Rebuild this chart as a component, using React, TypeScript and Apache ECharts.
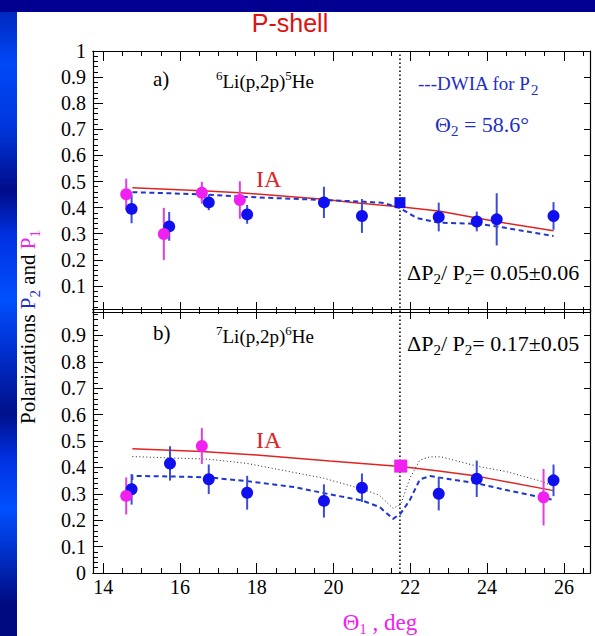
import React, { useEffect, useRef } from 'react';
import * as echarts from 'echarts';

// ---- axis ranges / ticks ----
const X_MIN = 13.735;
const X_MAX = 26.68;
const xMajorStep = 2;
const xMinorStep = 0.5;
const yStep = 0.1;

// ---- panel a) 6Li(p,2p)5He : [theta1, value, error] ----
const aP2 = [
  [14.74, 0.395, 0.055],
  [15.72, 0.328, 0.055],
  [16.75, 0.42, 0.03],
  [17.75, 0.374, 0.036],
  [19.75, 0.42, 0.06],
  [20.74, 0.368, 0.065],
  [22.74, 0.364, 0.055],
  [23.73, 0.347, 0.038],
  [24.25, 0.355, 0.1],
  [25.73, 0.368, 0.053],
];
const aP2Square = [[21.73, 0.419, 0.015]];
const aP1 = [
  [14.6, 0.451, 0.06],
  [15.58, 0.299, 0.1],
  [16.57, 0.457, 0.042],
  [17.56, 0.429, 0.072],
];
const aIA = [
  [14.76, 0.476], [16.57, 0.465], [17.56, 0.457], [18.5, 0.446], [19.74, 0.432],
  [20.5, 0.42], [21.2, 0.41], [21.73, 0.403], [22.74, 0.387], [23.73, 0.36],
  [24.5, 0.34], [25.73, 0.311],
];
const aDWIA = [
  [14.76, 0.459], [16.57, 0.451], [17.56, 0.442], [19.74, 0.429], [20.74, 0.423],
  [21.3, 0.418], [21.73, 0.398], [22.17, 0.36], [22.74, 0.342], [23.73, 0.338],
  [24.25, 0.328], [25.73, 0.291],
];

// ---- panel b) 7Li(p,2p)6He ----
const bP2 = [
  [14.74, 0.317, 0.058],
  [15.74, 0.415, 0.065],
  [16.75, 0.355, 0.056],
  [17.75, 0.304, 0.064],
  [19.75, 0.273, 0.063],
  [20.74, 0.323, 0.054],
  [22.74, 0.3, 0.063],
  [23.73, 0.357, 0.069],
  [25.73, 0.351, 0.06],
];
const bP1 = [
  [14.6, 0.292, 0.07],
  [16.57, 0.481, 0.068],
  [25.47, 0.287, 0.107],
];
const bP1Square = [[21.75, 0.405, 0.012]];
const bIA = [
  [14.76, 0.471], [16.57, 0.46], [18.0, 0.447], [19.9, 0.424], [21.75, 0.403],
  [22.74, 0.386], [23.73, 0.367], [25.73, 0.312],
];
const bDWIA = [
  [14.76, 0.32], [14.76, 0.368], [16.0, 0.365], [16.75, 0.362], [17.75, 0.348],
  [19.0, 0.325], [19.9, 0.298], [20.74, 0.275], [21.2, 0.25], [21.55, 0.205],
  [21.75, 0.226], [21.99, 0.277], [22.25, 0.355], [22.51, 0.367], [23.73, 0.34],
  [24.5, 0.314], [25.73, 0.277],
];
const bDotted = [
  [14.76, 0.441], [16.75, 0.431], [17.75, 0.415], [19.75, 0.359], [20.74, 0.318],
  [21.19, 0.295], [21.55, 0.245], [21.75, 0.26], [21.99, 0.36], [22.25, 0.428],
  [22.51, 0.44], [22.8, 0.44], [23.73, 0.405], [24.5, 0.384], [25.45, 0.346],
  [25.65, 0.333],
];
const cutTheta = [[21.73, 0], [21.73, 1]];

const SERIF = "'Liberation Serif', serif";
const BLUE = '#1010ee';
const BLUE_BAR = '#3c4cd6';
const MAG = '#f020f0';
const MAG_BAR = '#e040e0';
const RED = '#e02424';
const DASH_BLUE = '#1e36cc';
const TXT_BLUE = '#1f2ec4';

function fmtNum(v: number) {
  return String(Number(v.toFixed(1)));
}

function xAxesFor(grid: number, labels: boolean) {
  const base: any = {
    type: 'value', gridIndex: grid, min: X_MIN, max: X_MAX,
    splitLine: { show: false },
    axisLine: { show: true, onZero: false, lineStyle: { color: '#000', width: 1.2 } },
  };
  const major = (pos: string, showLabel: boolean) => ({
    ...base, position: pos, splitNumber: 6, minInterval: xMajorStep, maxInterval: xMajorStep,
    axisTick: { show: true, inside: true, length: 10, lineStyle: { color: '#000', width: 1 } },
    axisLabel: {
      show: showLabel, margin: 4, fontFamily: SERIF, fontSize: 20, color: '#000',
      formatter: (v: number) => (Math.abs(v - Math.round(v)) < 1e-6 ? String(Math.round(v)) : ''),
    },
  });
  const minor = (pos: string) => ({
    ...base, position: pos, splitNumber: 26, minInterval: xMinorStep, maxInterval: xMinorStep,
    axisTick: { show: true, inside: true, length: 5, lineStyle: { color: '#000', width: 1 } },
    axisLabel: { show: false },
  });
  return [major('bottom', labels), minor('bottom'), major('top', false), minor('top')];
}

function yAxesFor(grid: number, hide: (v: number) => boolean) {
  return [
    {
      type: 'value', gridIndex: grid, min: 0, max: 1, interval: yStep, position: 'left',
      splitLine: { show: false },
      axisLine: { show: true, onZero: false, lineStyle: { color: '#000', width: 1.2 } },
      axisTick: { show: true, inside: true, length: 10, lineStyle: { color: '#000' } },
      minorTick: { show: true, splitNumber: 5, length: 5, lineStyle: { color: '#000' } },
      axisLabel: {
        margin: 7, fontFamily: SERIF, fontSize: 20, color: '#000',
        formatter: (v: number) => (hide(v) ? '' : fmtNum(v)),
      },
    },
    {
      type: 'value', gridIndex: grid, min: 0, max: 1, interval: yStep, position: 'right',
      splitLine: { show: false },
      axisLine: { show: true, onZero: false, lineStyle: { color: '#000', width: 1.2 } },
      axisTick: { show: true, inside: true, length: 6, lineStyle: { color: '#000' } },
      axisLabel: { show: false },
    },
  ];
}

function errSeries(data: number[][], xi: number, yi: number, color: string) {
  return {
    type: 'custom', xAxisIndex: xi, yAxisIndex: yi, data, z: 3, silent: true,
    encode: { x: 0, y: 1 },
    renderItem: (_p: any, api: any) => {
      const x = api.value(0), y = api.value(1), e = api.value(2);
      const p1 = api.coord([x, y - e]);
      const p2 = api.coord([x, y + e]);
      return {
        type: 'line',
        shape: { x1: p1[0], y1: p1[1], x2: p2[0], y2: p2[1] },
        style: { stroke: color, lineWidth: 2 },
      };
    },
  };
}
function ptSeries(data: number[][], xi: number, yi: number, color: string, symbol = 'circle', size = 12) {
  return {
    type: 'scatter', xAxisIndex: xi, yAxisIndex: yi, data: data.map(d => [d[0], d[1]]),
    symbol, symbolSize: size, itemStyle: { color, opacity: 1 }, z: 4, silent: true,
  };
}
function lineSeries(data: number[][], xi: number, yi: number, color: string, width: number, type: any) {
  return {
    type: 'line', xAxisIndex: xi, yAxisIndex: yi, data, showSymbol: false, symbol: 'none',
    lineStyle: { color, width, type }, z: 2, silent: true,
  };
}

const n = (size: number, fill: string) => ({ fontSize: size, fontFamily: SERIF, fill, verticalAlign: 'middle' });
const sub = (size: number, fill: string, p: number) => ({ fontSize: size, fontFamily: SERIF, fill, verticalAlign: 'middle', padding: [p, 0, 0, 0] });
const sup = (size: number, fill: string, p: number) => ({ fontSize: size, fontFamily: SERIF, fill, verticalAlign: 'middle', padding: [0, 0, p, 0] });

function txt(x: number, y: number, text: string, rich: any, align = 'left', extra: any = {}) {
  return {
    type: 'text', x, y, ...extra,
    style: { text, rich, align, verticalAlign: 'middle', fontSize: 20, fontFamily: SERIF },
  };
}

export default function App() {
  const ref = useRef<HTMLDivElement>(null);
  useEffect(() => {
    if (!ref.current) return;
    const chart = echarts.init(ref.current, undefined, { renderer: 'svg' });
    const gradient = new echarts.graphic.LinearGradient(0, 0, 0, 1, [
      { offset: 0, color: '#000090' },
      { offset: 0.02, color: '#0028c0' },
      { offset: 0.1, color: '#0048f8' },
      { offset: 0.2, color: '#0036dc' },
      { offset: 0.3, color: '#000c8a' },
      { offset: 0.37, color: '#0030e0' },
      { offset: 0.47, color: '#0050ff' },
      { offset: 0.55, color: '#0030d0' },
      { offset: 0.65, color: '#00108a' },
      { offset: 0.72, color: '#0030e0' },
      { offset: 0.8, color: '#0050ff' },
      { offset: 0.87, color: '#0030c8' },
      { offset: 0.95, color: '#000a80' },
      { offset: 1, color: '#000a80' },
    ]);
    const deltaRich = { a: n(22, '#000'), s: sub(15, '#000', 13) };
    const option: any = {
      animation: false,
      backgroundColor: '#ffffff',
      grid: [
        { left: 93, top: 51, width: 497, height: 261 },
        { left: 93, top: 309, width: 497, height: 264 },
      ],
      xAxis: [...xAxesFor(0, false), ...xAxesFor(1, true)],
      yAxis: [
        ...yAxesFor(0, (v) => v < 0.05),
        ...yAxesFor(1, (v) => v > 0.95),
      ],
      series: [
        // panel a
        lineSeries(cutTheta, 0, 0, '#000', 1.5, [1.5, 2.5]),
        lineSeries(aIA, 0, 0, RED, 1.5, 'solid'),
        lineSeries(aDWIA, 0, 0, DASH_BLUE, 2, [5, 3.5]),
        errSeries(aP2, 0, 0, BLUE_BAR),
        errSeries(aP2Square, 0, 0, BLUE_BAR),
        errSeries(aP1, 0, 0, MAG_BAR),
        ptSeries(aP2, 0, 0, BLUE),
        ptSeries(aP2Square, 0, 0, BLUE, 'rect', 11),
        ptSeries(aP1, 0, 0, MAG),
        // panel b
        lineSeries(cutTheta, 4, 2, '#000', 1.5, [1.5, 2.5]),
        lineSeries(bIA, 4, 2, RED, 1.5, 'solid'),
        lineSeries(bDotted, 4, 2, '#222', 1, [1, 2.5]),
        lineSeries(bDWIA, 4, 2, DASH_BLUE, 2, [5, 3.5]),
        errSeries(bP2, 4, 2, BLUE_BAR),
        errSeries(bP1, 4, 2, MAG_BAR),
        errSeries(bP1Square, 4, 2, MAG_BAR),
        ptSeries(bP2, 4, 2, BLUE),
        ptSeries(bP1, 4, 2, MAG),
        ptSeries(bP1Square, 4, 2, MAG, 'rect', 13),
      ],
      graphic: [
        { type: 'rect', shape: { x: 0, y: 0, width: 17, height: 636 }, style: { fill: gradient } },
        { type: 'rect', shape: { x: 0, y: 0, width: 595, height: 12 }, style: { fill: '#000090' } },
        {
          type: 'text', x: 290, y: 23,
          style: { text: 'P-shell', fontSize: 25, fontFamily: "'Liberation Sans', Arial, sans-serif", fill: '#e01010', align: 'center', verticalAlign: 'middle' },
        },
        // panel a texts
        txt(153, 79, '{a|a)}', { a: n(21, '#000') }),
        txt(216, 81, '{p|6}{a|Li(p,2p)}{p|5}{a|He}', { a: n(19, '#000'), p: sup(13, '#000', 12) }),
        txt(256, 179, '{a|IA}', { a: n(24, RED) }),
        txt(418, 83, '{a|---DWIA for P}{s|2}', { a: n(19, TXT_BLUE), s: sub(15, TXT_BLUE, 14) }),
        txt(435, 124, '{a|Θ}{s|2}{a| = 58.6°}', { a: n(22, TXT_BLUE), s: sub(15, TXT_BLUE, 14) }),
        txt(407, 272, '{a|ΔP}{s|2}{a|/ P}{s|2}{a|= 0.05±0.06}', deltaRich),
        // panel b texts
        txt(153, 333, '{a|b)}', { a: n(21, '#000') }),
        txt(216, 336, '{p|7}{a|Li(p,2p)}{p|6}{a|He}', { a: n(19, '#000'), p: sup(13, '#000', 12) }),
        txt(407, 343, '{a|ΔP}{s|2}{a|/ P}{s|2}{a|= 0.17±0.05}', deltaRich),
        txt(256, 440, '{a|IA}', { a: n(24, RED) }),
        // axis names
        txt(380, 622, '{a|Θ}{s|1}{a| , deg}', { a: n(23, MAG), s: sub(15, MAG, 14) }, 'center'),
        txt(28, 327, '{k|Polarizations }{b|P}{bs|2}{k| and }{m|P}{ms|1}', {
          k: n(21, '#000'), b: n(21, TXT_BLUE), bs: sub(15, TXT_BLUE, 14),
          m: n(21, MAG), ms: sub(15, MAG, 14),
        }, 'center', { rotation: Math.PI / 2 }),
      ],
    };
    chart.setOption(option);
    return () => chart.dispose();
  }, []);
  return <div ref={ref} style={{ position: 'absolute', left: 0, top: 0, width: 595, height: 636 }} />;
}
